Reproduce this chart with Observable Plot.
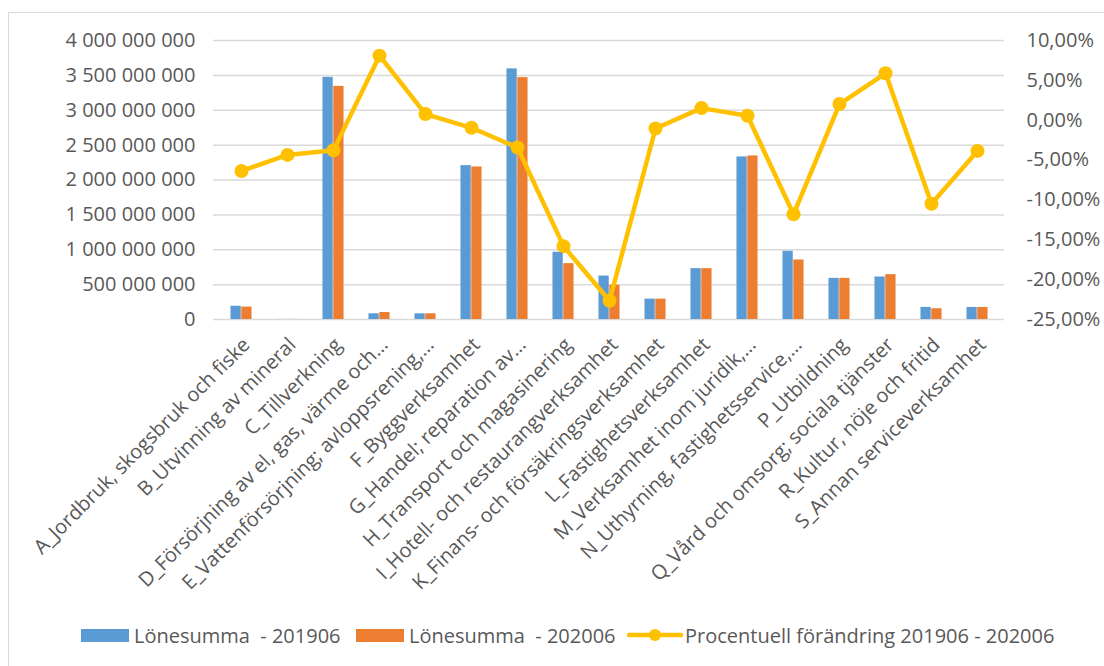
<!DOCTYPE html>
<html>
<head>
<meta charset="utf-8">
<script src="https://cdn.jsdelivr.net/npm/d3@7"></script>
<script src="https://cdn.jsdelivr.net/npm/@observablehq/plot@0.6"></script>
<style>
  html, body { margin: 0; padding: 0; background: #fff; }
  #wrap { position: relative; width: 1104px; height: 666px; overflow: hidden; font-family: "Open Sans", sans-serif; }
  #frame { position: absolute; left: 8px; top: 12px; width: 1200px; height: 800px; border: 1.5px solid #d9d9d9; box-sizing: border-box; }
  #chart { position: absolute; left: 0; top: 0; }
  #legend { position: absolute; left: 0; top: 620px; height: 30px; display: flex; align-items: center; font-size: 20px; color: #595959; white-space: pre; }
  .item { display: flex; align-items: center; position: absolute; top: 0; height: 30px; }
  .sw { display: inline-block; width: 48px; height: 13px; margin-right: 5px; }
</style>
</head>
<body>
<div id="wrap">
  <div id="frame"></div>
  <div id="chart"></div>
  <div id="legend"></div>
</div>
<script>
const categories = [
  "A_Jordbruk, skogsbruk och fiske",
  "B_Utvinning av mineral",
  "C_Tillverkning",
  "D_Försörjning av el, gas, värme och…",
  "E_Vattenförsörjning; avloppsrening,…",
  "F_Byggverksamhet",
  "G_Handel; reparation av…",
  "H_Transport och magasinering",
  "I_Hotell- och restaurangverksamhet",
  "K_Finans- och försäkringsverksamhet",
  "L_Fastighetsverksamhet",
  "M_Verksamhet inom juridik,…",
  "N_Uthyrning, fastighetsservice,…",
  "P_Utbildning",
  "Q_Vård och omsorg; sociala tjänster",
  "R_Kultur, nöje och fritid",
  "S_Annan serviceverksamhet"
];
const lonesumma201906 = [190e6, 1.5e6, 3472e6, 82e6, 82e6, 2206e6, 3593e6, 964e6, 623e6, 292e6, 729e6, 2331e6, 978e6, 590e6, 609e6, 173e6, 173e6];
const lonesumma202006 = [178e6, 1.4e6, 3342e6, 100e6, 82e6, 2187e6, 3468e6, 801e6, 490e6, 292e6, 729e6, 2345e6, 853e6, 590e6, 643e6, 154e6, 172e6];
const forandringPct = [-6.37, -4.35, -3.76, 8.1, 0.77, -0.95, -3.43, -15.8, -22.65, -1.04, 1.52, 0.56, -11.8, 2.03, 5.89, -10.48, -3.85];
const leftTicks = [0, 500e6, 1000e6, 1500e6, 2000e6, 2500e6, 3000e6, 3500e6, 4000e6];
const rightTicks = [-25, -20, -15, -10, -5, 0, 5, 10];
const seriesNames = ["Lönesumma  - 201906", "Lönesumma  - 202006", "Procentuell förändring 201906 - 202006"];

const colors = ["#5B9BD5", "#ED7D31", "#FFC000"];
const W = 1104, H = 610, mL = 213, mR = 100, mT = 40, mB = 291;
const bw = (W - mL - mR) / categories.length;
const barW = 10.8;
const innerInset = bw / 2 - barW;

const yMax = 4000e6;
const pctToY = d3.scaleLinear().domain([-25, 10]).range([0, yMax]);

const rows = categories.map((c, i) => ({cat: c, v19: lonesumma201906[i], v20: lonesumma202006[i], pct: forandringPct[i]}));

const fmtLeft = d => d3.format(",")(d).replace(/,/g, " ");
const fmtPct = d => pctToY.invert(d).toFixed(2).replace(".", ",") + "%";

const plot = Plot.plot({
  width: W, height: H,
  marginLeft: mL, marginRight: mR, marginTop: mT, marginBottom: mB,
  style: {fontFamily: "Open Sans, sans-serif", fontSize: "20px", color: "#595959", background: "transparent", overflow: "visible"},
  x: {domain: categories, padding: 0, axis: null},
  y: {domain: [0, yMax], axis: null},
  marks: [
    Plot.ruleY(leftTicks, {stroke: "#d9d9d9", strokeWidth: 1.5}),
    Plot.barY(rows, {x: "cat", y: "v19", fill: colors[0], insetLeft: innerInset, insetRight: bw / 2}),
    Plot.barY(rows, {x: "cat", y: "v20", fill: colors[1], insetLeft: bw / 2, insetRight: innerInset}),
    Plot.line(rows, {x: "cat", y: d => pctToY(d.pct), stroke: colors[2], strokeWidth: 4.5, strokeLinejoin: "round"}),
    Plot.dot(rows, {x: "cat", y: d => pctToY(d.pct), r: 7, fill: colors[2], stroke: "none"}),
    Plot.axisY(leftTicks, {anchor: "left", tickSize: 0, tickPadding: 18, tickFormat: fmtLeft, fill: "#595959", fontSize: 20}),
    Plot.axisY(rightTicks.map(pctToY), {anchor: "right", tickSize: 0, tickPadding: 22, tickFormat: fmtPct, fill: "#595959", fontSize: 20, textAnchor: "start"}),
    Plot.axisX({tickRotate: -45, tickSize: 0, tickPadding: 22, dx: 5, fill: "#595959", fontSize: 20, label: null})
  ]
});
document.getElementById("chart").appendChild(plot);

// legend
const legend = document.getElementById("legend");
const positions = [81, 356, 627];
seriesNames.forEach((name, i) => {
  const item = document.createElement("div");
  item.className = "item";
  item.style.left = positions[i] + "px";
  if (i < 2) {
    const sw = document.createElement("span");
    sw.className = "sw";
    sw.style.background = colors[i];
    item.appendChild(sw);
  } else {
    const ns = "http://www.w3.org/2000/svg";
    const svg = document.createElementNS(ns, "svg");
    svg.setAttribute("width", 56); svg.setAttribute("height", 20);
    svg.style.marginRight = "2px";
    const ln = document.createElementNS(ns, "line");
    ln.setAttribute("x1", 2); ln.setAttribute("x2", 54); ln.setAttribute("y1", 10); ln.setAttribute("y2", 10);
    ln.setAttribute("stroke", colors[2]); ln.setAttribute("stroke-width", 4.5); ln.setAttribute("stroke-linecap", "round");
    const c = document.createElementNS(ns, "circle");
    c.setAttribute("cx", 28); c.setAttribute("cy", 10); c.setAttribute("r", 6); c.setAttribute("fill", colors[2]);
    svg.appendChild(ln); svg.appendChild(c);
    item.appendChild(svg);
  }
  const t = document.createElement("span");
  t.textContent = name;
  item.appendChild(t);
  legend.appendChild(item);
});
</script>
</body>
</html>
